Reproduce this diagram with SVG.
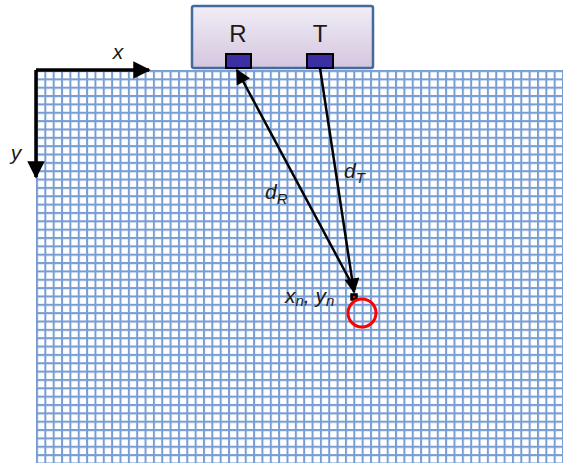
<svg xmlns="http://www.w3.org/2000/svg" width="563" height="463" viewBox="0 0 563 463">
<style>
.lbl{font-family:"Liberation Sans",Arial,sans-serif;font-size:24px;fill:#1a1a1a}
.it{font-family:"Liberation Sans",Arial,sans-serif;font-style:italic;font-size:21px;fill:#1a1a1a}
.sub{font-size:15px}
.ax{stroke:#000;stroke-width:3.5;fill:none}
.ray{stroke:#000;stroke-width:2.5;fill:none}
.sensor{fill:#3b2fa3;stroke:#000;stroke-width:2}
</style>
<defs>
<pattern id="grid" x="36" y="70" width="8.35" height="8.35" patternUnits="userSpaceOnUse">
<rect width="8.35" height="8.35" fill="#fff"/>
<path d="M1 0V8.35M0 1H8.35" stroke="#5f8ccc" stroke-width="2" stroke-opacity="0.85"/>
</pattern>
<linearGradient id="boxg" x1="0" y1="0" x2="0" y2="1">
<stop offset="0" stop-color="#f1edf6"/>
<stop offset="1" stop-color="#d4c6df"/>
</linearGradient>
<marker id="ah" viewBox="0 0 10 10" refX="9" refY="5" markerWidth="5" markerHeight="5" markerUnits="strokeWidth" orient="auto">
<path d="M0 0L10 5L0 10z" fill="#000"/>
</marker>
<marker id="ahs" viewBox="0 0 10 10" refX="9" refY="5" markerWidth="7" markerHeight="6" markerUnits="strokeWidth" orient="auto">
<path d="M0 0L10 5L0 10z" fill="#000"/>
</marker>
</defs>
<g id="grid-field">
<rect x="36" y="70" width="527" height="393" fill="url(#grid)"/>
</g>
<g id="antenna-box">
<rect x="192" y="6" width="181" height="62" rx="2" fill="url(#boxg)" stroke="#44699b" stroke-width="2.5"/>
<text class="lbl" x="238" y="42" text-anchor="middle">R</text>
<text class="lbl" x="320" y="42" text-anchor="middle">T</text>
</g>
<g id="receiver"><rect class="sensor" x="226" y="54" width="25" height="14"/></g>
<g id="transmitter"><rect class="sensor" x="307" y="54" width="26" height="14"/></g>
<g id="axes">
<path class="ax" d="M36 70H149" marker-end="url(#ah)"/>
<path class="ax" d="M36 70V177" marker-end="url(#ah)"/>
<text class="it" x="118" y="59" text-anchor="middle">x</text>
<text class="it" x="16" y="160" text-anchor="middle">y</text>
</g>
<g id="connectors">
<path class="ray" d="M355 290L237 70" marker-end="url(#ahs)"/>
<path class="ray" d="M320 68L354 292" marker-end="url(#ahs)"/>
</g>
<g id="target">
<rect x="351" y="294" width="6" height="6" fill="#000" stroke="#000" stroke-width="1.5"/>
<circle cx="354" cy="297" r="1.2" fill="#f00"/>
<circle cx="362" cy="313" r="14" fill="none" stroke="#f00" stroke-width="3"/>
<text class="it" x="285" y="303">x<tspan class="sub" dy="3">n</tspan><tspan dy="-3">, y</tspan><tspan class="sub" dy="3">n</tspan></text>
</g>
<g id="labels">
<text class="it" x="265" y="199">d<tspan class="sub" dy="5">R</tspan></text>
<text class="it" x="344" y="178">d<tspan class="sub" dy="5">T</tspan></text>
</g>
</svg>
